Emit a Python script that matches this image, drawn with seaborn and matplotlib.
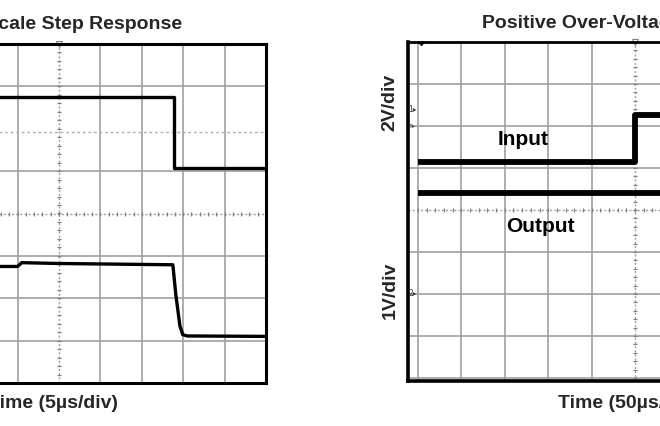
import numpy as np
import pandas as pd
import matplotlib
matplotlib.use("Agg")
import matplotlib.pyplot as plt
import seaborn as sns

sns.set_style("white")
plt.rcParams['font.family'] = ['Liberation Sans', 'DejaVu Sans']

# ---- data (time and level in oscilloscope divisions, centre = 0) ----
left_upper_t = [-5.0, 2.77, 2.77, 5.0]
left_upper_v = [2.76, 2.76, 1.08, 1.08]

left_lower_t = [-5.0, -1.0, -0.9, 0.0, 2.75, 2.82, 2.92, 2.99, 3.1, 5.0]
left_lower_v = [-1.25, -1.25, -1.16, -1.18, -1.21, -1.9, -2.65, -2.86, -2.89, -2.9]

right_input_t = [-5.0, 0.0, 0.0, 5.0]
right_input_v = [1.14, 1.14, 2.26, 2.26]

right_output_t = [-5.0, 5.0]
right_output_v = [0.40, 0.40]

left_title = "Full-Scale Step Response"
left_xlabel = "Time (5µs/div)"
right_title = "Positive Over-Voltage Protection"
right_xlabel = "Time (50µs/div)"
right_ylabel_top = "2V/div"
right_ylabel_bottom = "1V/div"
label_input = "Input"
label_output = "Output"

W, H = 660, 426
fig = plt.figure(figsize=(W / 100, H / 100), dpi=100)
fig.patch.set_facecolor("white")

def fx(px):
    return px / W

def fy(py):
    return 1 - py / H

GRID = "#a0a0a0"

def draw_grid(ax, skip_y=()):
    for x in range(-5, 6):
        if x == 0:
            ax.axvline(x, color=GRID, lw=1.0, ls=(0, (1.5, 1.5)), zorder=1)
        else:
            ax.axvline(x, color=GRID, lw=1.2, zorder=1)
    for y in range(-4, 5):
        if y in skip_y:
            continue
        if y == 0:
            ax.axhline(y, color=GRID, lw=1.0, ls=(0, (1.5, 1.5)), zorder=1)
        else:
            ax.axhline(y, color=GRID, lw=1.2, zorder=1)
    mt = np.arange(-5, 5.01, 0.2)
    ax.plot(mt, np.zeros_like(mt), ls="none", marker="|", ms=3.5, mew=0.9,
            color="#808080", zorder=1)
    mt2 = np.arange(-4, 4.01, 0.2)
    ax.plot(np.zeros_like(mt2), mt2, ls="none", marker="_", ms=3.5, mew=0.9,
            color="#808080", zorder=1)
    ax.plot([0], [4], ls="none", marker="v", ms=5, mfc="white", mec="#808080",
            mew=0.8, clip_on=False, zorder=5)

# ---------------- left panel ----------------
axL = fig.add_axes([fx(-148), fy(383), fx(414), 339 / H])
axL.set_xlim(-5, 5)
axL.set_ylim(-4, 4)
draw_grid(axL, skip_y=(2,))
axL.axhline(1.93, color="#b0b0b0", lw=1.0, ls=(0, (2, 2)), zorder=1)

dfLu = pd.DataFrame({"t": left_upper_t, "v": left_upper_v})
dfLl = pd.DataFrame({"t": left_lower_t, "v": left_lower_v})
sns.lineplot(data=dfLu, x="t", y="v", ax=axL, color="black", lw=2.4,
             estimator=None, sort=False, zorder=3)
sns.lineplot(data=dfLl, x="t", y="v", ax=axL, color="black", lw=2.4,
             estimator=None, sort=False, zorder=3)
for s in axL.spines.values():
    s.set_color("black")
    s.set_linewidth(2.2)
    s.set_zorder(6)
axL.set_xticks([])
axL.set_yticks([])
axL.set_xlabel("")
axL.set_ylabel("")

# ---------------- right panel ----------------
axR = fig.add_axes([fx(408), fy(381), fx(444), 339 / H])
axR.set_xlim(-5 - 10 / 43.4, 5)
axR.set_ylim(-4 - 3 / 42, 4)
draw_grid(axR)

dfRi = pd.DataFrame({"t": right_input_t, "v": right_input_v})
dfRo = pd.DataFrame({"t": right_output_t, "v": right_output_v})
sns.lineplot(data=dfRi, x="t", y="v", ax=axR, color="black", lw=4.2,
             estimator=None, sort=False, zorder=3)
sns.lineplot(data=dfRo, x="t", y="v", ax=axR, color="black", lw=4.2,
             estimator=None, sort=False, zorder=3)
for ln in axR.lines[-2:]:
    ln.set_solid_capstyle("butt")
for s in axR.spines.values():
    s.set_color("black")
    s.set_linewidth(2.6)
    s.set_zorder(6)
axR.spines["top"].set_linewidth(2.0)
axR.set_xticks([])
axR.set_yticks([])
axR.set_xlabel("")
axR.set_ylabel("")

# small channel markers
axR.text(-5.12, 2.4, "1▸", fontsize=5.5, ha="center", va="center",
         color="#404040", family=["DejaVu Sans"], zorder=7)
axR.text(-5.12, 1.98, "T▸", fontsize=4.5, ha="center", va="center",
         color="#404040", family=["DejaVu Sans"], zorder=7)
axR.text(-5.12, -2.0, "2▸", fontsize=5.5, ha="center", va="center",
         color="#404040", family=["DejaVu Sans"], zorder=7)
axR.plot([-4.93], [3.93], ls="none", marker=7, ms=4, color="black",
         clip_on=False, zorder=7)

axR.text(-3.157, 1.548, label_input, fontsize=15, fontweight="bold",
         ha="left", va="baseline", color="black", zorder=7)
axR.text(-2.972, -0.524, label_output, fontsize=15, fontweight="bold",
         ha="left", va="baseline", color="black", zorder=7)

# ---------------- texts ----------------
TS = 14
fig.text(fx(182), fy(29), left_title, fontsize=TS, fontweight="bold",
         ha="right", va="baseline")
fig.text(fx(118), fy(408), left_xlabel, fontsize=TS, fontweight="bold",
         ha="right", va="baseline")
fig.text(fx(482), fy(27.5), right_title, fontsize=TS, fontweight="bold",
         ha="left", va="baseline")
fig.text(fx(558), fy(408), right_xlabel, fontsize=TS, fontweight="bold",
         ha="left", va="baseline")
fig.text(fx(390), fy(102), right_ylabel_top, fontsize=TS, fontweight="bold",
         rotation=90, ha="center", va="center")
fig.text(fx(390), fy(290), right_ylabel_bottom, fontsize=TS, fontweight="bold",
         rotation=90, ha="center", va="center")

fig.savefig("out.png", dpi=100, facecolor="white")
